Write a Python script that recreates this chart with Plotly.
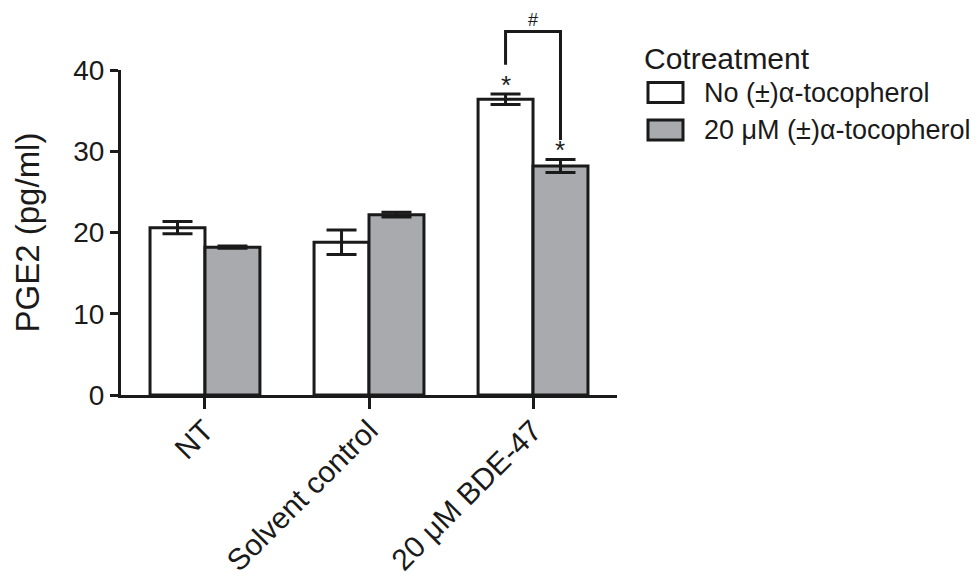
import plotly.graph_objects as go

categories = ["NT", "Solvent control", "20 \u03bcM BDE-47"]
no_toco = [20.6, 18.8, 36.4]
no_toco_err = [0.75, 1.5, 0.65]
with_toco = [18.2, 22.2, 28.2]
with_toco_err = [0.15, 0.3, 0.8]
series_names = ["No (\u00b1)\u03b1-tocopherol", "20 \u03bcM (\u00b1)\u03b1-tocopherol"]
legend_title = "Cotreatment"
y_ticks = [0, 10, 20, 30, 40]
y_max = 40

FONT = "Liberation Sans, Arial, sans-serif"
GRAY = "#a8aaad"
INK = "#1a1a1a"
W, H = 976, 581
L, R, T, B = 121, 359, 70, 186
PW, PH = W - L - R, H - T - B
BARGAP = 0.33
half = (1 - BARGAP) / 4  # offset of each bar centre from category centre

def px2paper_x(px):
    return (px - L) / PW

def px2paper_y(py):
    return (H - B - py) / PH

fig = go.Figure()
for name, vals, errs, fill in [(series_names[0], no_toco, no_toco_err, "white"),
                               (series_names[1], with_toco, with_toco_err, GRAY)]:
    fig.add_trace(go.Bar(
        x=categories, y=vals, name=name,
        marker=dict(color=fill, line=dict(color=INK, width=3)),
        error_y=dict(type="data", array=errs, visible=True, color=INK,
                     thickness=3, width=15),
        showlegend=False,
    ))

fig.update_layout(
    width=W, height=H,
    margin=dict(l=L, r=R, t=T, b=B),
    paper_bgcolor="white", plot_bgcolor="white",
    barmode="group", bargap=BARGAP, bargroupgap=0,
    font=dict(family=FONT, color=INK),
    xaxis=dict(
        range=[-0.512, 2.512], showline=True, linecolor=INK, linewidth=3,
        ticks="outside", ticklen=11, tickwidth=3, tickcolor=INK,
        tickangle=-45, tickfont=dict(size=30, family=FONT), showgrid=False,
        zeroline=False, automargin=False, ticklabelstandoff=-8,
    ),
    yaxis=dict(
        range=[0, y_max], tickvals=y_ticks, showline=True, linecolor=INK,
        linewidth=3, ticks="outside", ticklen=8, tickwidth=3, tickcolor=INK,
        tickfont=dict(size=28, family=FONT), showgrid=False, zeroline=False,
        automargin=False,
        title=dict(text="PGE2 (pg/ml)", font=dict(size=33, family=FONT), standoff=24),
    ),
)

# significance marks
ix = 2
xw, xg = ix - half, ix + half
top_w = no_toco[ix] + no_toco_err[ix]
top_g = with_toco[ix] + with_toco_err[ix]
for xc, yt in [(xw, top_w), (xg, top_g)]:
    fig.add_annotation(x=xc, y=yt, xref="x", yref="y", text="*", showarrow=False,
                       yanchor="bottom", yshift=-8, font=dict(size=26, family=FONT))

br_top = top_w + 7.7
left_bot = top_w + 3.6
right_bot = top_g + 2.4
fig.add_shape(type="path",
              path=f"M {xw} {left_bot / y_max} L {xw} {br_top / y_max} L {xg} {br_top / y_max} L {xg} {right_bot / y_max}",
              xref="x", yref="paper", line=dict(color=INK, width=3))
fig.add_annotation(x=ix, y=br_top / y_max, xref="x", yref="paper", text="#",
                   showarrow=False, yanchor="bottom", yshift=-1,
                   font=dict(size=18, family=FONT))

# legend drawn manually
fig.add_annotation(x=px2paper_x(642), y=px2paper_y(58), xref="paper", yref="paper",
                   text=legend_title, showarrow=False, xanchor="left", yanchor="middle",
                   font=dict(size=30, family=FONT))
rows = [(92.5, "white"), (130, GRAY)]
for (cy, fill), name in zip(rows, series_names):
    fig.add_shape(type="rect", xref="paper", yref="paper",
                  x0=px2paper_x(648), x1=px2paper_x(683),
                  y0=px2paper_y(cy - 10), y1=px2paper_y(cy + 10),
                  fillcolor=fill, line=dict(color=INK, width=3))
    fig.add_annotation(x=px2paper_x(702), y=px2paper_y(cy), xref="paper", yref="paper",
                       text=name, showarrow=False, xanchor="left", yanchor="middle",
                       font=dict(size=27, family=FONT))

fig.write_html("out.html", config={"displayModeBar": False},
               post_script="document.body.style.margin='0px';")
